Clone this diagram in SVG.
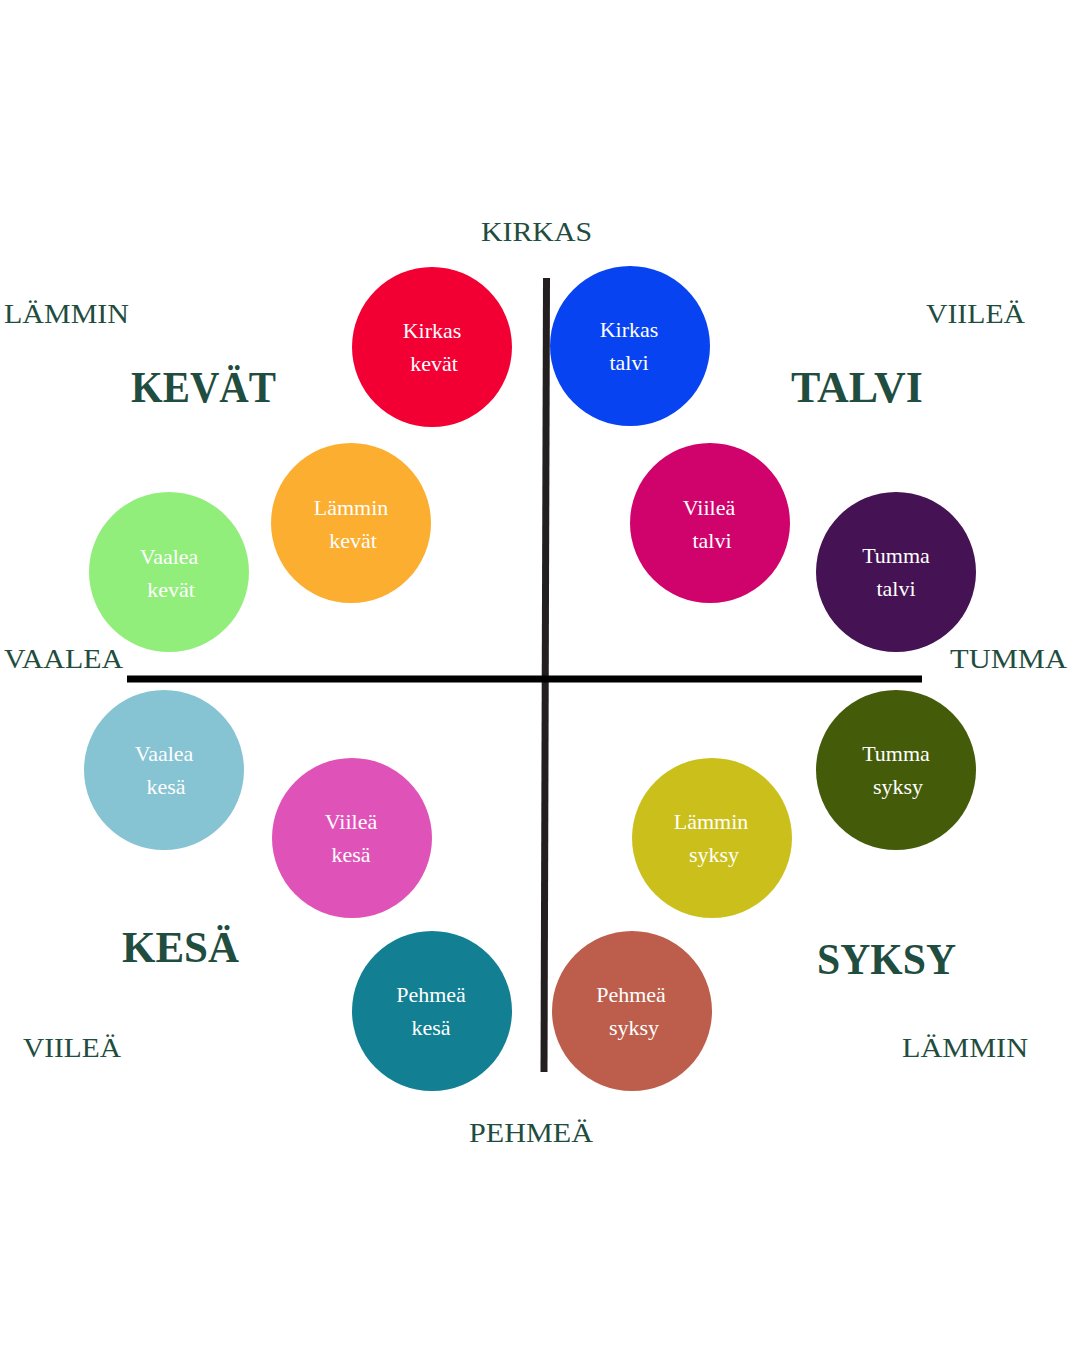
<svg xmlns="http://www.w3.org/2000/svg" width="1080" height="1350" viewBox="0 0 1080 1350">
<style>
.lbl{font-family:"Liberation Serif",serif;font-size:28px;fill:#1f4d40}
.season{font-family:"Liberation Serif",serif;font-size:44px;font-weight:bold;fill:#1f4d40}
.ct{font-family:"Liberation Serif",serif;font-size:22px;fill:#ffffff;text-anchor:middle}
</style>
<rect width="1080" height="1350" fill="#ffffff"/>
<g id="connectors">
<line x1="546.5" y1="278" x2="544" y2="1072" stroke="#231f20" stroke-width="7"/>
<line x1="127" y1="679" x2="922" y2="679" stroke="#000000" stroke-width="7"/>
</g>
<g id="labels">
<text class="lbl" x="481" y="241" textLength="111" lengthAdjust="spacingAndGlyphs">KIRKAS</text>
<text class="lbl" x="469" y="1142" textLength="124" lengthAdjust="spacingAndGlyphs">PEHMEÄ</text>
<text class="lbl" x="4" y="323" textLength="125" lengthAdjust="spacingAndGlyphs">LÄMMIN</text>
<text class="lbl" x="926" y="323" textLength="99" lengthAdjust="spacingAndGlyphs">VIILEÄ</text>
<text class="lbl" x="4" y="668" textLength="119" lengthAdjust="spacingAndGlyphs">VAALEA</text>
<text class="lbl" x="950" y="668" textLength="117" lengthAdjust="spacingAndGlyphs">TUMMA</text>
<text class="lbl" x="23" y="1057" textLength="98" lengthAdjust="spacingAndGlyphs">VIILEÄ</text>
<text class="lbl" x="902" y="1057" textLength="126" lengthAdjust="spacingAndGlyphs">LÄMMIN</text>
<text class="season" x="131" y="402" textLength="145" lengthAdjust="spacingAndGlyphs">KEVÄT</text>
<text class="season" x="791" y="402" textLength="132" lengthAdjust="spacingAndGlyphs">TALVI</text>
<text class="season" x="122" y="962" textLength="117" lengthAdjust="spacingAndGlyphs">KESÄ</text>
<text class="season" x="817" y="974" textLength="139" lengthAdjust="spacingAndGlyphs">SYKSY</text>
</g>
<g id="kirkas-kevat"><circle cx="432" cy="347" r="80" fill="#f20034"/><text class="ct" x="432" y="338">Kirkas</text><text class="ct" x="434" y="371">kevät</text></g>
<g id="kirkas-talvi"><circle cx="630" cy="346" r="80" fill="#0743f0"/><text class="ct" x="629" y="337">Kirkas</text><text class="ct" x="629" y="370">talvi</text></g>
<g id="lammin-kevat"><circle cx="351" cy="523" r="80" fill="#fbae2f"/><text class="ct" x="351" y="515">Lämmin</text><text class="ct" x="353" y="548">kevät</text></g>
<g id="viilea-talvi"><circle cx="710" cy="523" r="80" fill="#d0036c"/><text class="ct" x="709" y="515">Viileä</text><text class="ct" x="712" y="548">talvi</text></g>
<g id="vaalea-kevat"><circle cx="169" cy="572" r="80" fill="#92ee7b"/><text class="ct" x="169" y="564">Vaalea</text><text class="ct" x="171" y="597">kevät</text></g>
<g id="tumma-talvi"><circle cx="896" cy="572" r="80" fill="#451253"/><text class="ct" x="896" y="563">Tumma</text><text class="ct" x="896" y="596">talvi</text></g>
<g id="vaalea-kesa"><circle cx="164" cy="770" r="80" fill="#86c3d3"/><text class="ct" x="164" y="761">Vaalea</text><text class="ct" x="166" y="794">kesä</text></g>
<g id="tumma-syksy"><circle cx="896" cy="770" r="80" fill="#445c0a"/><text class="ct" x="896" y="761">Tumma</text><text class="ct" x="898" y="794">syksy</text></g>
<g id="viilea-kesa"><circle cx="352" cy="838" r="80" fill="#df53b8"/><text class="ct" x="351" y="829">Viileä</text><text class="ct" x="351" y="862">kesä</text></g>
<g id="lammin-syksy"><circle cx="712" cy="838" r="80" fill="#cbc01b"/><text class="ct" x="711" y="829">Lämmin</text><text class="ct" x="714" y="862">syksy</text></g>
<g id="pehmea-kesa"><circle cx="432" cy="1011" r="80" fill="#127f92"/><text class="ct" x="431" y="1002">Pehmeä</text><text class="ct" x="431" y="1035">kesä</text></g>
<g id="pehmea-syksy"><circle cx="632" cy="1011" r="80" fill="#bd5e4c"/><text class="ct" x="631" y="1002">Pehmeä</text><text class="ct" x="634" y="1035">syksy</text></g>
</svg>
